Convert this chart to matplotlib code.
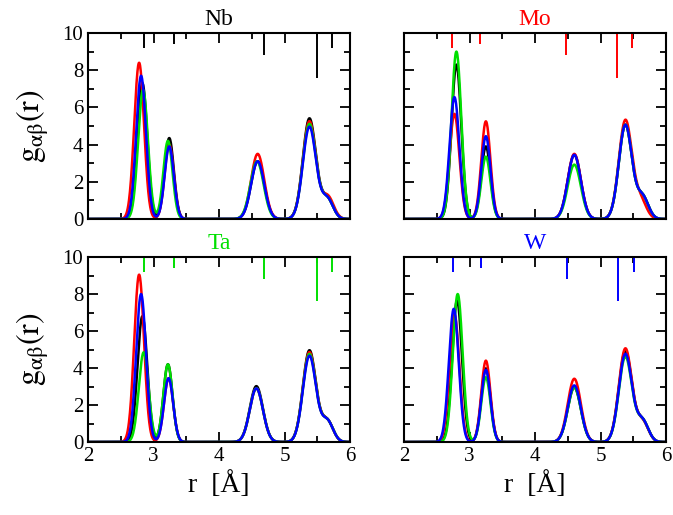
import matplotlib
matplotlib.use("Agg")
import matplotlib.pyplot as plt
import numpy as np

plt.rcParams['font.family'] = ['Liberation Serif', 'DejaVu Serif']
plt.rcParams['mathtext.fontset'] = 'stix'

# element order of curves: Nb (black), Mo (red), Ta (green), W (blue)
colors = ['black', '#ff0000', '#00e000', '#0000ff']
panels = ['Nb', 'Mo', 'Ta', 'W']

# peak widths (sigma) of the five shells
sig = [0.075, 0.07, 0.10, 0.10, 0.09]

# peak centres per panel, per curve (black, red, green, blue)
nb_pos = [[2.83, 3.24, 4.59, 5.38, 5.65], [2.78, 3.24, 4.59, 5.38, 5.66],
          [2.84, 3.22, 4.58, 5.38, 5.65], [2.81, 3.24, 4.59, 5.38, 5.65]]
mo_pos = [[2.80, 3.25, 4.60, 5.38, 5.64], [2.77, 3.25, 4.60, 5.38, 5.61],
          [2.80, 3.25, 4.60, 5.38, 5.64], [2.77, 3.25, 4.60, 5.38, 5.64]]
ta_pos = [[2.83, 3.22, 4.57, 5.38, 5.65], [2.78, 3.23, 4.57, 5.38, 5.65],
          [2.85, 3.22, 4.57, 5.38, 5.65], [2.81, 3.23, 4.57, 5.38, 5.65]]
w_pos = [[2.81, 3.25, 4.60, 5.38, 5.64], [2.77, 3.25, 4.60, 5.38, 5.64],
         [2.82, 3.25, 4.60, 5.38, 5.64], [2.76, 3.25, 4.60, 5.38, 5.64]]

# peak heights per panel, per curve (black, red, green, blue)
nb_h = [[7.3, 4.35, 3.1, 5.4, 1.1], [8.4, 4.0, 3.5, 5.25, 1.2],
        [6.95, 4.2, 3.1, 5.1, 1.1], [7.7, 3.9, 3.1, 4.95, 1.1]]
mo_h = [[8.3, 3.9, 3.45, 5.05, 1.2], [5.65, 5.25, 3.5, 5.3, 1.0],
        [9.0, 3.35, 2.92, 5.05, 1.2], [6.55, 4.45, 3.45, 5.05, 1.2]]
ta_h = [[6.8, 4.2, 3.02, 4.95, 1.15], [9.05, 3.45, 2.9, 4.85, 1.15],
        [4.85, 4.2, 2.9, 4.75, 1.15], [8.0, 3.45, 2.9, 4.65, 1.15]]
w_h = [[7.65, 3.98, 2.95, 4.9, 1.15], [6.9, 4.4, 3.42, 5.05, 1.1],
       [8.0, 3.5, 2.95, 4.6, 1.15], [7.2, 3.9, 3.06, 4.75, 1.15]]

# ideal bcc shell positions (sticks) and their lengths
nb_stick = [2.86, 3.31, 4.69, 5.50, 5.73]
mo_stick = [2.74, 3.16, 4.48, 5.25, 5.48]
ta_stick = [2.86, 3.31, 4.69, 5.50, 5.73]
w_stick = [2.75, 3.17, 4.49, 5.27, 5.51]
stick_len = [0.8, 0.6, 1.2, 2.4, 0.8]

all_pos = [nb_pos, mo_pos, ta_pos, w_pos]
all_h = [nb_h, mo_h, ta_h, w_h]
all_stick = [nb_stick, mo_stick, ta_stick, w_stick]

fig = plt.figure(figsize=(6.73, 5.15), dpi=100)
rects = [[0.1308, 0.5748, 0.3893, 0.3612], [0.6003, 0.5748, 0.3893, 0.3612],
         [0.1308, 0.1417, 0.3893, 0.3592], [0.6003, 0.1417, 0.3893, 0.3592]]

r = np.linspace(2, 6, 801)
for k in range(4):
    ax = fig.add_axes(rects[k])
    for j in range(4):
        g = np.zeros_like(r)
        for p in range(5):
            g += all_h[k][j][p] * np.exp(-(r - all_pos[k][j][p])**2 / (2 * sig[p]**2))
        ax.plot(r, g, color=colors[j], lw=1.8)
    ax.vlines(all_stick[k], [10 - s for s in stick_len], 10, color=colors[k], lw=1.4)
    ax.set_xlim(2, 6)
    ax.set_ylim(0, 10)
    ax.set_xticks([2, 3, 4, 5, 6])
    ax.set_xticks(np.arange(2.5, 6, 1), minor=True)
    ax.set_yticks([0, 2, 4, 6, 8, 10])
    ax.set_yticks([1, 3, 5, 7, 9], minor=True)
    ax.tick_params(which='both', direction='in', top=True, right=True, width=1.3, labelsize=15)
    ax.tick_params(which='major', length=7)
    ax.tick_params(which='minor', length=4)
    for s in ax.spines.values():
        s.set_linewidth(1.5)
    ax.set_title(panels[k], color=colors[k], fontsize=17, pad=6)
    if k % 2 == 1:
        ax.set_yticklabels([])
    else:
        ax.set_ylabel(r'$\mathrm{g}_{\mathrm{\alpha\beta}}\mathrm{(r)}$', fontsize=23, labelpad=8)
    if k < 2:
        ax.set_xticklabels([])
    else:
        ax.set_xlabel('r  [Å]', fontsize=20, labelpad=4)

fig.savefig('out.png', dpi=100)
